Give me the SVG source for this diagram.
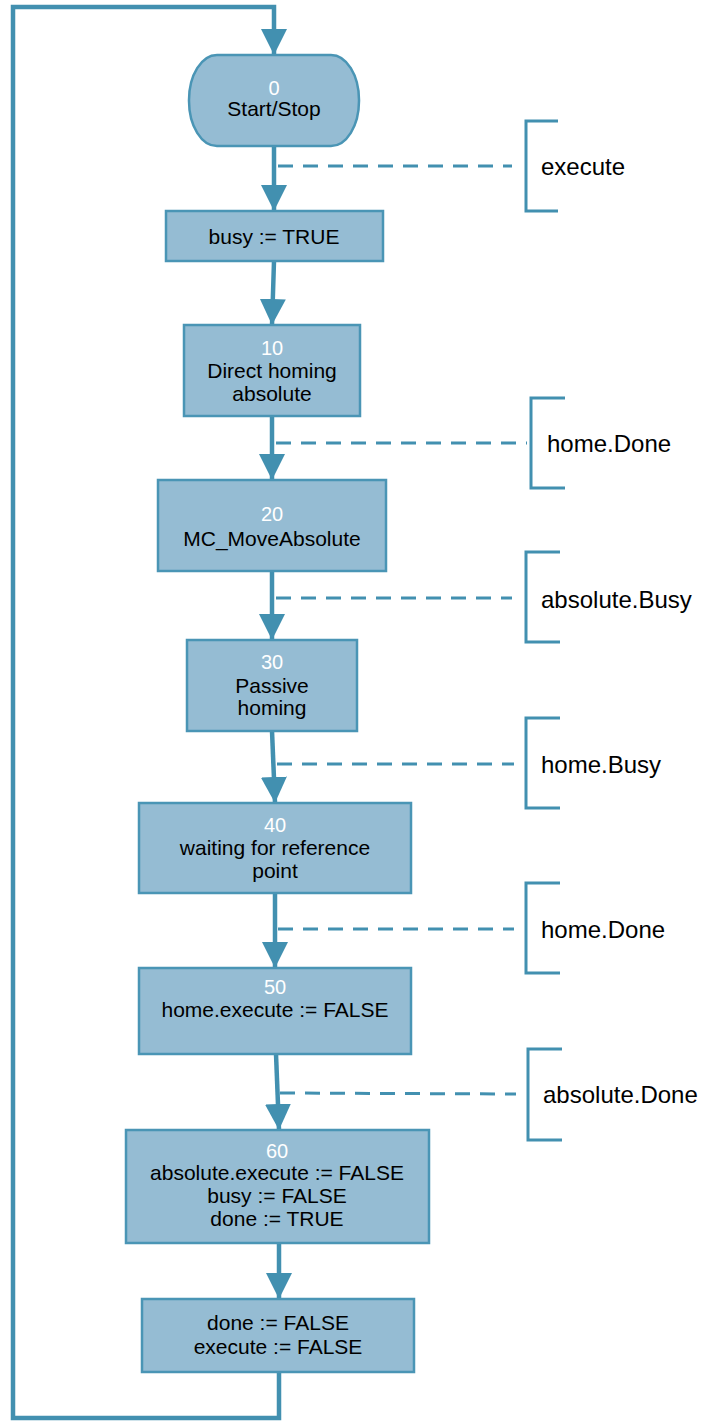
<svg xmlns="http://www.w3.org/2000/svg" width="701" height="1421" viewBox="0 0 701 1421">
<defs>
<marker id="ah" markerUnits="userSpaceOnUse" markerWidth="26" markerHeight="26" refX="26" refY="13" orient="auto" viewBox="0 0 26 26">
<path d="M0,0 L26,13 L0,26 z" fill="#4290b0"/>
</marker>
<style>
.box{fill:#95bcd3;stroke:#4a95b5;stroke-width:2.5}
.flow{fill:none;stroke:#4290b0;stroke-width:4.5}
.dash{fill:none;stroke:#4290b0;stroke-width:3;stroke-dasharray:15 10}
.br{fill:none;stroke:#4290b0;stroke-width:3}
.t{font-family:"Liberation Sans",Arial,sans-serif;font-size:21px;fill:#000;text-anchor:middle}
.n{font-family:"Liberation Sans",Arial,sans-serif;font-size:20px;fill:#fff;text-anchor:middle}
.l{font-family:"Liberation Sans",Arial,sans-serif;font-size:24px;fill:#000}
</style>
</defs>
<g id="connectors">
<path class="flow" d="M279,1372 L279,1418 L13,1418 L13,7 L274,7 L274,55" marker-end="url(#ah)"/>
<path class="flow" d="M274,146 L274,211" marker-end="url(#ah)"/>
<path class="flow" d="M274,261 L272,325" marker-end="url(#ah)"/>
<path class="flow" d="M272,416 L272,480" marker-end="url(#ah)"/>
<path class="flow" d="M272,571 L272,640" marker-end="url(#ah)"/>
<path class="flow" d="M272,731 L275,803" marker-end="url(#ah)"/>
<path class="flow" d="M275,893 L275,968" marker-end="url(#ah)"/>
<path class="flow" d="M276,1054 L279,1130" marker-end="url(#ah)"/>
<path class="flow" d="M279,1243 L279,1299" marker-end="url(#ah)"/>
<path class="dash" d="M278,166 L512,166"/>
<path class="dash" d="M276,443 L527,443"/>
<path class="dash" d="M276,598 L512,598"/>
<path class="dash" d="M277,764 L514,764"/>
<path class="dash" d="M278,929 L514,929"/>
<path class="dash" d="M280,1093 L516,1094"/>
</g>
<g id="transitions">
<path class="br" d="M558,121 L526,121 L526,211 L558,211"/>
<text class="l" x="541" y="175">execute</text>
<path class="br" d="M565,398 L531,398 L531,488 L565,488"/>
<text class="l" x="547" y="452">home.Done</text>
<path class="br" d="M560,552 L526,552 L526,642 L560,642"/>
<text class="l" x="541" y="608">absolute.Busy</text>
<path class="br" d="M560,718 L526,718 L526,808 L560,808"/>
<text class="l" x="541" y="773">home.Busy</text>
<path class="br" d="M560,883 L526,883 L526,973 L560,973"/>
<text class="l" x="541" y="938">home.Done</text>
<path class="br" d="M562,1049 L528,1049 L528,1140 L562,1140"/>
<text class="l" x="543" y="1103">absolute.Done</text>
</g>
<g id="node0">
<rect class="box" x="189" y="55" width="170" height="91" rx="28" ry="45"/>
<text class="n" x="274" y="95">0</text>
<text class="t" x="274" y="116">Start/Stop</text>
</g>
<g id="node-busy">
<rect class="box" x="166" y="211" width="217" height="50"/>
<text class="t" x="274" y="244">busy := TRUE</text>
</g>
<g id="node10">
<rect class="box" x="184" y="325" width="176" height="91"/>
<text class="n" x="272" y="355">10</text>
<text class="t" x="272" y="378">Direct homing</text>
<text class="t" x="272" y="401">absolute</text>
</g>
<g id="node20">
<rect class="box" x="158" y="480" width="228" height="91"/>
<text class="n" x="272" y="521">20</text>
<text class="t" x="272" y="546">MC_MoveAbsolute</text>
</g>
<g id="node30">
<rect class="box" x="187" y="640" width="170" height="91"/>
<text class="n" x="272" y="669">30</text>
<text class="t" x="272" y="693">Passive</text>
<text class="t" x="272" y="715">homing</text>
</g>
<g id="node40">
<rect class="box" x="139" y="803" width="272" height="90"/>
<text class="n" x="275" y="832">40</text>
<text class="t" x="275" y="855">waiting for reference</text>
<text class="t" x="275" y="878">point</text>
</g>
<g id="node50">
<rect class="box" x="139" y="968" width="272" height="86"/>
<text class="n" x="275" y="994">50</text>
<text class="t" x="275" y="1017">home.execute := FALSE</text>
</g>
<g id="node60">
<rect class="box" x="126" y="1130" width="303" height="113"/>
<text class="n" x="277" y="1158">60</text>
<text class="t" x="277" y="1180">absolute.execute := FALSE</text>
<text class="t" x="277" y="1203">busy := FALSE</text>
<text class="t" x="277" y="1226">done := TRUE</text>
</g>
<g id="node-reset">
<rect class="box" x="142" y="1299" width="272" height="73"/>
<text class="t" x="278" y="1330">done := FALSE</text>
<text class="t" x="278" y="1354">execute := FALSE</text>
</g>
</svg>
